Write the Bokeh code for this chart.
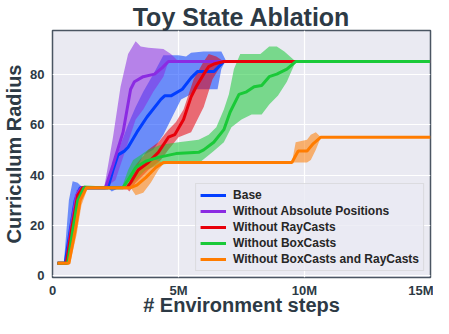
from bokeh.plotting import figure
from bokeh.models import FixedTicker, Legend, LegendItem
from bokeh.embed import file_html
from bokeh.resources import INLINE

# ---- data (x in millions of environment steps) ----
labels = ["Base", "Without Absolute Positions", "Without RayCasts",
          "Without BoxCasts", "Without BoxCasts and RayCasts"]
colors = ["#023eff", "#8b2be2", "#e8000b", "#1ac938", "#ff7c00"]

base_x = [0.2, 0.5, 0.7, 0.9, 1.1, 2.2, 2.4, 2.6, 2.85, 3.0, 3.35, 3.75, 4.3, 4.45, 4.7, 5.15, 5.5, 5.75, 6.4, 6.8, 15]
base_y = [5, 5, 18, 30, 35, 35, 42, 48, 49.5, 51, 57, 63, 70, 71.4, 71.4, 74, 78.5, 81, 81, 85, 85]
base_up_x = [0.2, 0.45, 0.65, 0.8, 1.0, 1.2, 2.15, 2.4, 2.7, 3.0, 3.3, 3.6, 4.0, 4.4, 5.0, 5.3, 5.5, 6.0, 6.7, 6.9, 15]
base_up_y = [5, 5, 30, 37.5, 37, 35, 35, 42, 52, 60, 67, 73, 80, 87.5, 87.5, 87, 88.5, 89, 89, 85, 85]
base_lo_x = [0.2, 0.55, 0.8, 1.0, 1.2, 2.2, 2.35, 2.55, 2.9, 3.2, 3.6, 4.0, 4.4, 4.8, 5.1, 5.5, 5.7, 6.0, 6.55, 6.7, 6.85, 15]
base_lo_y = [5, 5, 14, 27, 35, 35, 33.5, 34.5, 36, 40, 48, 50, 56, 64, 70, 72, 74, 74, 74, 82, 85, 85]

pur_x = [0.2, 0.55, 0.75, 0.95, 1.15, 2.1, 2.4, 2.8, 3.1, 3.25, 3.6, 4.05, 4.35, 4.6, 15]
pur_y = [5, 5, 20, 32, 35, 35, 44, 57, 74, 77, 79, 80, 82.5, 85, 85]
pur_up_x = [0.2, 0.55, 0.75, 0.95, 1.15, 2.05, 2.4, 2.7, 3.0, 3.3, 3.5, 3.8, 4.4, 4.7, 5.0, 15]
pur_up_y = [5, 5, 22, 34, 35.5, 35, 55, 75, 88, 93, 91, 90.5, 90, 88, 85, 85]
pur_lo_x = [0.2, 0.55, 0.8, 1.0, 1.2, 2.1, 2.5, 2.9, 3.3, 3.6, 4.0, 4.4, 4.6, 15]
pur_lo_y = [5, 5, 16, 29, 35, 35, 38, 50, 62, 66, 73, 79, 85, 85]

red_x = [0.2, 0.55, 0.75, 1.0, 1.2, 2.95, 3.1, 3.4, 3.8, 4.2, 4.6, 4.85, 5.2, 5.5, 5.7, 6.0, 6.2, 6.4, 6.8, 15]
red_y = [5, 5, 18, 32, 35, 35, 37, 42, 45, 49, 55, 56, 62, 71, 75, 80, 83, 84, 85, 85]
red_up_x = [0.2, 0.55, 0.75, 1.0, 1.2, 2.95, 3.3, 3.8, 4.2, 4.6, 4.9, 5.2, 5.6, 6.0, 6.2, 6.5, 6.8, 15]
red_up_y = [5, 5, 20, 34, 35, 35, 44, 50, 53, 58, 61, 66, 78, 85, 88, 87, 85, 85]
red_lo_x = [0.2, 0.55, 0.8, 1.0, 1.2, 2.9, 3.05, 3.3, 3.8, 4.3, 4.6, 5.0, 5.5, 6.0, 6.35, 6.6, 6.8, 15]
red_lo_y = [5, 5, 16, 30, 35, 35, 33.5, 37, 42, 46, 50, 55, 57, 67, 78, 82, 85, 85]

grn_x = [0.2, 0.6, 0.8, 1.0, 1.25, 2.8, 3.0, 3.3, 3.7, 4.2, 4.9, 5.8, 6.0, 6.4, 6.8, 7.05, 7.4, 7.7, 8.0, 8.3, 8.6, 8.9, 9.3, 9.65, 15]
grn_y = [5, 5, 18, 30, 35, 35, 38, 43, 45.5, 47, 48.5, 49, 50, 53, 58, 65, 72, 73, 75, 75.5, 79, 80, 82, 85, 85]
grn_up_x = [0.2, 0.6, 0.8, 1.0, 1.25, 2.75, 3.0, 3.2, 3.5, 3.8, 4.3, 5.0, 5.8, 6.2, 6.5, 6.8, 7.0, 7.2, 7.45, 8.25, 8.6, 8.9, 9.2, 9.65, 15]
grn_up_y = [5, 5, 20, 32, 36, 35, 42, 46, 48, 50, 52, 53, 54, 56, 59, 66, 72, 82, 88, 88, 91, 91, 89, 85, 85]
grn_lo_x = [0.2, 0.6, 0.85, 1.05, 1.3, 2.8, 3.0, 3.3, 3.7, 4.2, 5.0, 5.9, 6.4, 6.8, 7.1, 7.5, 7.9, 8.3, 8.6, 8.95, 9.3, 9.65, 15]
grn_lo_y = [5, 5, 16, 28, 35, 35, 35, 38, 42, 44, 45, 45.5, 49.5, 53, 59, 62, 64, 64, 68, 71.5, 77, 85, 85]

org_x = [0.2, 0.65, 0.9, 1.1, 1.35, 3.1, 3.35, 3.7, 4.1, 4.4, 9.5, 9.75, 10.1, 10.35, 10.65, 15]
org_y = [5, 5, 18, 30, 35, 35, 36, 39, 43, 45, 45, 49.5, 49.5, 52.5, 55, 55]
org_up_x = [0.2, 0.6, 0.9, 1.1, 1.35, 3.05, 3.3, 3.6, 3.9, 4.1, 4.4, 9.5, 9.65, 10.1, 10.25, 10.45, 10.65, 15]
org_up_y = [5, 5, 20, 32, 35.5, 35, 41, 45, 46, 46, 45, 45, 53, 54, 56, 57, 55, 55]
org_lo_x = [0.2, 0.7, 0.95, 1.15, 1.4, 3.1, 3.3, 3.6, 3.9, 4.2, 4.45, 9.5, 10.1, 10.25, 10.45, 10.65, 15]
org_lo_y = [5, 5, 16, 28, 35, 35, 32, 33, 37, 42, 45, 45, 45, 46, 50, 55, 55]

x_ticks = [0, 5, 10, 15]
x_tick_labels = ["0", "5M", "10M", "15M"]
y_ticks = [0, 20, 40, 60, 80]
title_text = "Toy State Ablation"
x_label_text = "# Environment steps"
y_label_text = "Curriculum Radius"

series = [
    (base_x, base_y, base_up_x, base_up_y, base_lo_x, base_lo_y),
    (pur_x, pur_y, pur_up_x, pur_up_y, pur_lo_x, pur_lo_y),
    (red_x, red_y, red_up_x, red_up_y, red_lo_x, red_lo_y),
    (grn_x, grn_y, grn_up_x, grn_up_y, grn_lo_x, grn_lo_y),
    (org_x, org_y, org_up_x, org_up_y, org_lo_x, org_lo_y),
]

TXT = "#2d3a45"
FONT = "Liberation Sans"

p = figure(width=433, height=318, x_range=(0, 15), y_range=(-0.6, 97.3),
           output_backend="svg", toolbar_location=None, title=title_text,
           min_border_left=46, min_border_right=3, min_border_top=0, min_border_bottom=0)

p.background_fill_color = "#eaeaf2"
p.border_fill_color = "white"
p.outline_line_color = "#4a5562"
p.outline_line_width = 1.5

p.title.align = "center"
p.title.text_font = FONT
p.title.text_font_size = "25px"
p.title.text_font_style = "bold"
p.title.text_color = TXT
p.title.standoff = 0

for ax in (p.xaxis[0], p.yaxis[0]):
    ax.axis_line_color = None
    ax.major_tick_line_color = None
    ax.minor_tick_line_color = None
    ax.major_tick_out = 0
    ax.major_tick_in = 0
    ax.minor_tick_out = 0
    ax.major_label_text_font = FONT
    ax.major_label_text_font_style = "bold"
    ax.major_label_text_font_size = "13px"
    ax.major_label_text_color = TXT
    ax.axis_label_text_font = FONT
    ax.axis_label_text_font_style = "bold"
    ax.axis_label_text_font_size = "20px"
    ax.axis_label_text_color = TXT

p.xaxis.ticker = FixedTicker(ticks=x_ticks)
p.xaxis.major_label_overrides = dict(zip(x_ticks, x_tick_labels))
p.yaxis.ticker = FixedTicker(ticks=y_ticks)
p.xaxis.axis_label = x_label_text
p.yaxis.axis_label = y_label_text
p.xaxis.major_label_standoff = 5
p.xaxis.axis_label_standoff = -7
p.yaxis.major_label_standoff = 8
p.yaxis.axis_label_standoff = 2

p.grid.grid_line_color = "white"
p.grid.grid_line_width = 1.2

for (mx, my, ux, uy, lx, ly), c in zip(series, colors):
    p.patch(ux + lx[::-1], uy + ly[::-1], fill_color=c, fill_alpha=0.55, line_color=None)

items = []
for (mx, my, ux, uy, lx, ly), c, lab in zip(series, colors, labels):
    r = p.line(mx, my, line_color=c, line_width=3)
    items.append(LegendItem(label=lab, renderers=[r]))

leg = Legend(items=items, location="bottom_right")
leg.label_text_font = FONT
leg.label_text_font_style = "bold"
leg.label_text_font_size = "12px"
leg.label_text_color = "#262626"
leg.glyph_width = 26
leg.glyph_height = 14
leg.label_height = 14
leg.spacing = 2
leg.label_standoff = 7
leg.padding = 4
leg.margin = 6
leg.background_fill_color = "#eaeaf2"
leg.background_fill_alpha = 0.8
leg.border_line_color = "#cccccc"
leg.border_line_width = 1
p.add_layout(leg)

open("out.html", "w").write(file_html(p, INLINE))
